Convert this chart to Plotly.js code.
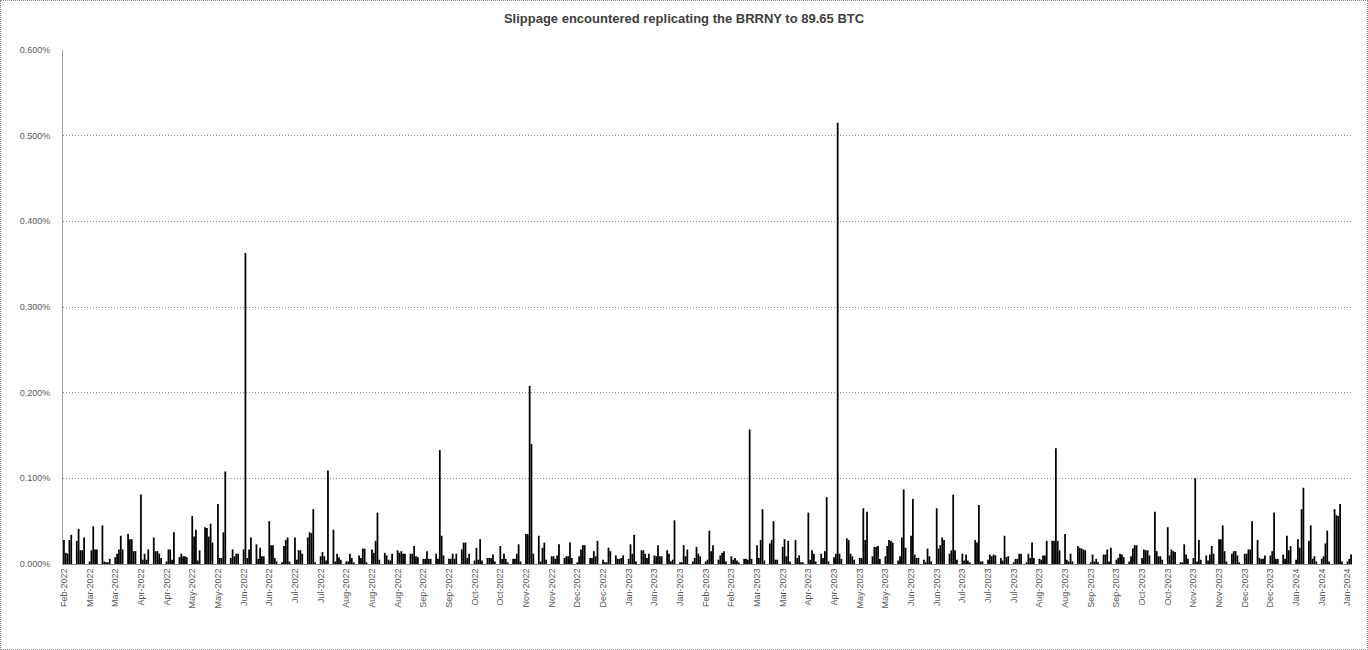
<!DOCTYPE html>
<html>
<head>
<meta charset="utf-8">
<script src="https://cdn.plot.ly/plotly-3.0.1.min.js"></script>
<style>
  html, body { margin: 0; padding: 0; background: #fff; }
  #wrap { position: relative; width: 1368px; height: 650px; }
  #chart { width: 1368px; height: 650px; }
  #frame { position: absolute; left: 0; top: 0; width: 1366px; height: 648px;
           border: 1px dotted #8a8a8a; pointer-events: none; }
</style>
</head>
<body>
<div id="wrap"><div id="chart"></div><div id="frame"></div></div>
<script>
// Daily slippage (in %) from 28 Feb 2022 to 31 Jan 2024.
// Values read per week: Mon..Fri (weekends show no slippage).
const startDate = "2022-02-28";

// weeks 0-24 (Feb 2022 - Aug 2022)
const slipWeeksA = [
  [0.028, 0.013, 0.012, 0.028, 0.034],
  [0.027, 0.041, 0.016, 0.016, 0.031],
  [0.003, 0.016, 0.044, 0.017, 0.017],
  [0.045, 0.003, 0.002, 0.002, 0.006],
  [0.008, 0.012, 0.017, 0.033, 0.017],
  [0.035, 0.029, 0.029, 0.015, 0.015],
  [0.081, 0.005, 0.012, 0.005, 0.017],
  [0.031, 0.015, 0.015, 0.012, 0.007],
  [0.003, 0.017, 0.017, 0.005, 0.037],
  [0.008, 0.012, 0.009, 0.009, 0.008],
  [0.056, 0.032, 0.040, 0.004, 0.016],
  [0.043, 0.042, 0.032, 0.047, 0.025],
  [0.070, 0.007, 0.007, 0.037, 0.108],
  [0.007, 0.017, 0.009, 0.012, 0.012],
  [0.017, 0.363, 0.007, 0.017, 0.031],
  [0.023, 0.006, 0.019, 0.009, 0.009],
  [0.050, 0.022, 0.022, 0.007, 0.003],
  [0.002, 0.021, 0.028, 0.031, 0.003],
  [0.031, 0.005, 0.016, 0.016, 0.012],
  [0.031, 0.037, 0.036, 0.064, 0.002],
  [0.009, 0.014, 0.009, 0.004, 0.109],
  [0.040, 0.003, 0.012, 0.008, 0.005],
  [0.003, 0.003, 0.012, 0.007, 0.002],
  [0.010, 0.007, 0.018, 0.018, 0.002],
  [0.017, 0.013, 0.027, 0.060, 0.005]
];

// weeks 25-49 (Aug 2022 - Feb 2023)
const slipWeeksB = [
  [0.013, 0.010, 0.005, 0.004, 0.012],
  [0.016, 0.013, 0.015, 0.012, 0.012],
  [0.012, 0.012, 0.021, 0.009, 0.008],
  [0.006, 0.006, 0.015, 0.006, 0.006],
  [0.012, 0.006, 0.133, 0.033, 0.010],
  [0.006, 0.006, 0.012, 0.006, 0.012],
  [0.017, 0.025, 0.025, 0.007, 0.012],
  [0.004, 0.019, 0.005, 0.029, 0.004],
  [0.007, 0.007, 0.007, 0.011, 0.003],
  [0.021, 0.006, 0.012, 0.006, 0.002],
  [0.006, 0.006, 0.012, 0.023, 0.003],
  [0.035, 0.035, 0.208, 0.140, 0.012],
  [0.033, 0.003, 0.019, 0.025, 0.005],
  [0.009, 0.009, 0.006, 0.010, 0.023],
  [0.007, 0.009, 0.009, 0.025, 0.007],
  [0.002, 0.009, 0.017, 0.022, 0.022],
  [0.007, 0.007, 0.015, 0.009, 0.027],
  [0.005, 0.002, 0.002, 0.019, 0.015],
  [0.010, 0.006, 0.006, 0.007, 0.010],
  [0.006, 0.023, 0.012, 0.034, 0.003],
  [0.016, 0.016, 0.012, 0.007, 0.012],
  [0.010, 0.009, 0.022, 0.009, 0.009],
  [0.016, 0.012, 0.003, 0.005, 0.051],
  [0.002, 0.002, 0.022, 0.009, 0.017],
  [0.003, 0.007, 0.020, 0.012, 0.009]
];

// weeks 50-74 (Feb 2023 - Aug 2023)
const slipWeeksC = [
  [0.003, 0.005, 0.039, 0.015, 0.022],
  [0.005, 0.010, 0.013, 0.015, 0.003],
  [0.009, 0.005, 0.007, 0.004, 0.002],
  [0.006, 0.006, 0.005, 0.157, 0.006],
  [0.022, 0.007, 0.028, 0.064, 0.004],
  [0.024, 0.028, 0.050, 0.005, 0.005],
  [0.020, 0.029, 0.009, 0.027, 0.003],
  [0.028, 0.007, 0.010, 0.002, 0.002],
  [0.060, 0.005, 0.016, 0.012, 0.003],
  [0.012, 0.007, 0.015, 0.078, 0.003],
  [0.008, 0.012, 0.515, 0.012, 0.006],
  [0.030, 0.028, 0.012, 0.009, 0.005],
  [0.007, 0.007, 0.065, 0.028, 0.061],
  [0.009, 0.020, 0.020, 0.021, 0.006],
  [0.009, 0.021, 0.028, 0.027, 0.025],
  [0.004, 0.009, 0.031, 0.087, 0.019],
  [0.033, 0.076, 0.011, 0.007, 0.007],
  [0.005, 0.002, 0.018, 0.009, 0.003],
  [0.065, 0.018, 0.022, 0.031, 0.028],
  [0.012, 0.016, 0.081, 0.016, 0.005],
  [0.012, 0.004, 0.011, 0.004, 0.002],
  [0.028, 0.025, 0.069, 0.003, 0.003],
  [0.005, 0.011, 0.009, 0.011, 0.010],
  [0.007, 0.004, 0.033, 0.008, 0.009],
  [0.002, 0.006, 0.006, 0.012, 0.012]
];

// weeks 75-100 (Aug 2023 - Jan 2024)
const slipWeeksD = [
  [0.002, 0.012, 0.007, 0.025, 0.007],
  [0.006, 0.005, 0.010, 0.010, 0.027],
  [0.027, 0.027, 0.135, 0.027, 0.016],
  [0.035, 0.005, 0.003, 0.012, 0.003],
  [0.021, 0.019, 0.018, 0.017, 0.016],
  [0.002, 0.011, 0.003, 0.006, 0.002],
  [0.011, 0.011, 0.017, 0.003, 0.019],
  [0.005, 0.007, 0.012, 0.011, 0.008],
  [0.003, 0.009, 0.018, 0.022, 0.022],
  [0.007, 0.017, 0.016, 0.016, 0.010],
  [0.061, 0.015, 0.009, 0.009, 0.005],
  [0.043, 0.010, 0.017, 0.015, 0.014],
  [0.002, 0.002, 0.023, 0.011, 0.006],
  [0.007, 0.100, 0.003, 0.028, 0.005],
  [0.010, 0.004, 0.011, 0.021, 0.012],
  [0.029, 0.029, 0.045, 0.015, 0.003],
  [0.012, 0.015, 0.015, 0.010, 0.002],
  [0.012, 0.012, 0.017, 0.017, 0.050],
  [0.028, 0.007, 0.006, 0.006, 0.010],
  [0.010, 0.015, 0.060, 0.006, 0.006],
  [0.011, 0.006, 0.033, 0.016, 0.021],
  [0.005, 0.029, 0.019, 0.064, 0.089],
  [0.027, 0.045, 0.006, 0.009, 0.003],
  [0.006, 0.009, 0.024, 0.039, 0.003],
  [0.064, 0.057, 0.056, 0.070, 0.003],
  [0.003, 0.006, 0.011]
];

// x-axis labels shown every 14th day
const tickLabels = [
  "Feb-2022","Mar-2022","Mar-2022","Apr-2022","Apr-2022","May-2022","May-2022",
  "Jun-2022","Jun-2022","Jul-2022","Jul-2022","Aug-2022","Aug-2022","Aug-2022",
  "Sep-2022","Sep-2022","Oct-2022","Oct-2022","Nov-2022","Nov-2022","Dec-2022",
  "Dec-2022","Jan-2023","Jan-2023","Jan-2023","Feb-2023","Feb-2023","Mar-2023",
  "Mar-2023","Apr-2023","Apr-2023","May-2023","May-2023","Jun-2023","Jun-2023",
  "Jul-2023","Jul-2023","Jul-2023","Aug-2023","Aug-2023","Sep-2023","Sep-2023",
  "Oct-2023","Oct-2023","Nov-2023","Nov-2023","Dec-2023","Dec-2023","Jan-2024",
  "Jan-2024","Jan-2024"
];
const tickStep = 14;

// ---- build daily series ----
const allWeeks = slipWeeksA.concat(slipWeeksB, slipWeeksC, slipWeeksD);
const yVals = [];
allWeeks.forEach(function (wk, i) {
  wk.forEach(function (v) { yVals.push(v); });
  if (i < allWeeks.length - 1) { yVals.push(0); yVals.push(0); } // Sat, Sun
});
const xVals = yVals.map(function (_, i) { return i; });
const tickVals = tickLabels.map(function (_, i) { return i * tickStep; });

const trace = {
  type: "bar",
  x: xVals,
  y: yVals,
  marker: { color: "#000000", line: { width: 0 } },
  hovertemplate: "%{y:.3f}%<extra></extra>"
};

const axisFont = { family: "Liberation Sans, Arial, sans-serif", size: 9, color: "#595959" };

const layout = {
  width: 1368,
  height: 650,
  margin: { l: 63, r: 16, t: 50, b: 86, pad: 0 },
  paper_bgcolor: "#ffffff",
  plot_bgcolor: "#ffffff",
  title: {
    text: "<b>Slippage encountered replicating the BRRNY to 89.65 BTC</b>",
    font: { family: "Liberation Sans, Arial, sans-serif", size: 13, color: "#404040" },
    x: 0.5, xanchor: "center", y: 0.972, yanchor: "middle"
  },
  bargap: 0.04,
  showlegend: false,
  xaxis: {
    type: "linear",
    range: [-0.5, yVals.length - 0.5],
    tickmode: "array",
    tickvals: tickVals,
    ticktext: tickLabels,
    tickangle: -90,
    tickfont: axisFont,
    showgrid: false,
    zeroline: false,
    showline: true,
    linecolor: "#8c8c8c",
    linewidth: 1,
    ticks: "",
    fixedrange: true
  },
  yaxis: {
    range: [0, 0.6],
    dtick: 0.1,
    tick0: 0,
    tickformat: ".3f",
    ticksuffix: "%",
    tickfont: axisFont,
    showgrid: true,
    gridcolor: "#8c8c8c",
    griddash: "1px,2px",
    gridwidth: 1,
    zeroline: false,
    showline: true,
    linecolor: "#a0a0a0",
    linewidth: 1,
    ticks: "",
    ticklabelstandoff: 10,
    fixedrange: true
  }
};

Plotly.newPlot("chart", [trace], layout, { displayModeBar: false, staticPlot: true });
</script>
</body>
</html>
